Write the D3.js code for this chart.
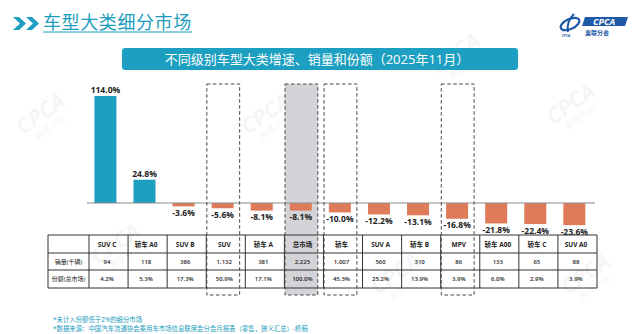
<!DOCTYPE html>
<html><head><meta charset="utf-8">
<script src="https://cdn.jsdelivr.net/npm/d3@7"></script>
<style>
html,body{margin:0;padding:0;background:#fff;}
svg{display:block;}
text{font-family:"Open Sans","Noto Sans CJK SC",sans-serif;}
</style></head>
<body>
<svg id="c" width="640" height="334"></svg>
<script>
const categories = ["SUV C","轿车 A0","SUV B","SUV","轿车 A","总市场","轿车","SUV A","轿车 B","MPV","轿车 A00","轿车 C","SUV A0"];
const growth = [114.0, 24.8, -3.6, -5.6, -8.1, -8.1, -10.0, -12.2, -13.1, -16.8, -21.8, -22.4, -23.6];
const sales = ["94","118","386","1,132","381","2,225","1,007","560","310","86","133","65","88"];
const shares = ["4.2%","5.3%","17.3%","50.9%","17.1%","100.0%","45.3%","25.2%","13.9%","3.9%","6.0%","2.9%","3.9%"];
const rowLabels = ["销量(千辆)","份额(总市场)"];
const dashedCats = ["SUV","总市场","轿车","MPV"];
const grayCat = "总市场";
const title = "车型大类细分市场";
const subtitle = "不同级别车型大类增速、销量和份额（2025年11月）";
const notes = ["*未计入份额低于2%的细分市场","*数据来源：中国汽车流通协会乘用车市场信息联席会分会月报表（零售，狭义汇总）-終稿"];

const TEAL = "#1d9fc1", ORANGE = "#e07b59", TITLE = "#1a9cbc";
const svg = d3.select("#c");

// watermarks
const wm = [[45,120],[120,250],[270,120],[400,280],[575,110],[590,280],[460,60]];
wm.forEach(([x,y])=>{
  const g = svg.append("g").attr("transform",`translate(${x},${y}) rotate(-35)`).attr("opacity",0.05);
  g.append("text").attr("font-size",22).attr("font-weight",700).attr("font-style","italic").attr("fill","#555").attr("text-anchor","middle").text("CPCA");
  g.append("text").attr("y",12).attr("font-size",9).attr("fill","#555").attr("text-anchor","middle").text("乘联分会");
});

// title chevrons
[[13],[26]].forEach(([x])=>{
  svg.append("path").attr("d",`M${x},17 L${x+6},17 L${x+13},23.5 L${x+6},30 L${x},30 L${x+7},23.5 Z`).attr("fill",TEAL);
});
svg.append("text").attr("x",43).attr("y",29).attr("font-size",18).attr("fill",TITLE)
  .attr("font-family","Noto Sans CJK SC").attr("letter-spacing",0.6).text(title);
svg.append("line").attr("x1",43).attr("x2",192).attr("y1",32).attr("y2",32).attr("stroke",TITLE).attr("stroke-width",1);

// logo
const lg = svg.append("g");
lg.append("path").attr("d","M585,17 L628,17 L625,26 L582,26 Z").attr("fill","#1f5aa8");
lg.append("text").attr("x",604).attr("y",25).attr("text-anchor","middle").attr("font-size",9).attr("font-weight",700).attr("font-style","italic").attr("fill","#fff").text("CPCA");
lg.append("text").attr("x",597).attr("y",35).attr("text-anchor","middle").attr("font-size",6).attr("font-weight",700).attr("fill","#1f5aa8").attr("font-family","Noto Sans CJK SC").text("乘联分会");
lg.append("ellipse").attr("cx",570).attr("cy",24).attr("rx",10).attr("ry",5).attr("transform","rotate(-25,570,24)").attr("fill","none").attr("stroke","#1f5aa8").attr("stroke-width",2.2);
lg.append("path").attr("d","M574,14 Q566,22 568,32").attr("fill","none").attr("stroke","#1f5aa8").attr("stroke-width",2);
lg.append("text").attr("x",566).attr("y",37).attr("text-anchor","middle").attr("font-size",3.5).attr("font-weight",700).attr("font-style","italic").attr("fill","#1f5aa8").text("CPCA");

// banner
svg.append("rect").attr("x",122).attr("y",48).attr("width",396).attr("height",22).attr("rx",3).attr("fill",TEAL);
svg.append("text").attr("x",317).attr("y",63.5).attr("text-anchor","middle").attr("font-size",13).attr("fill","#fff")
  .attr("font-family","Noto Sans CJK SC").text(subtitle);

// scales
const x = d3.scaleBand().domain(categories).range([89, 597]).padding(0);
const bw = x.bandwidth();
const y = d3.scaleLinear().domain([0, 114]).range([203, 96]);

const boxTop = 84, boxBot = 295;
const boxW = bw * 0.84;

// gray highlight
svg.append("rect").attr("x", x(grayCat)+0.6).attr("y", boxTop).attr("width", boxW).attr("height", boxBot-boxTop).attr("fill","#d4d4d8");

// bars
svg.selectAll("rect.bar").data(categories).join("rect").attr("class","bar")
  .attr("x", d => x(d) + bw*0.42 - 11)
  .attr("width", 22)
  .attr("y", (d,i) => growth[i] >= 0 ? y(growth[i]) : y(0))
  .attr("height", (d,i) => Math.abs(y(growth[i]) - y(0)))
  .attr("fill", (d,i) => growth[i] >= 0 ? TEAL : ORANGE);

// baseline
svg.append("line").attr("x1",87).attr("x2",595).attr("y1",y(0)).attr("y2",y(0)).attr("stroke","#8a8a8a").attr("stroke-width",1);

// labels
svg.selectAll("text.lab").data(categories).join("text").attr("class","lab")
  .attr("x", d => x(d) + bw*0.42)
  .attr("y", (d,i) => growth[i] >= 0 ? y(growth[i]) - 3 : y(growth[i]) + 9.5)
  .attr("text-anchor","middle").attr("font-size",8.5).attr("font-weight",700).attr("fill","#222")
  .text((d,i) => growth[i].toFixed(1) + "%");

// table
const tTop = 235, rowH = [18, 17, 18];
const rowsY = [tTop, tTop+rowH[0], tTop+rowH[0]+rowH[1], tTop+rowH[0]+rowH[1]+rowH[2]];
const tLeft = 48, tRight = 597;
const tg = svg.append("g");
rowsY.forEach(ry => tg.append("line").attr("x1",tLeft).attr("x2",tRight).attr("y1",ry).attr("y2",ry).attr("stroke","#333").attr("stroke-width",1));
const colX = [tLeft, ...categories.map(c => x(c)), tRight];
colX.forEach(cx => tg.append("line").attr("x1",cx).attr("x2",cx).attr("y1",rowsY[0]).attr("y2",rowsY[3]).attr("stroke","#333").attr("stroke-width",1));

const cellCenter = c => x(c) + bw/2 - 1.5;
tg.selectAll("text.hdr").data(categories).join("text").attr("class","hdr")
  .attr("x", cellCenter).attr("y", (rowsY[0]+rowsY[1])/2 + 2.5)
  .attr("text-anchor","middle").attr("font-size",6.5).attr("font-weight",700).attr("fill","#222").text(d => d);
tg.selectAll("text.s").data(categories).join("text").attr("class","s")
  .attr("x", cellCenter).attr("y", (rowsY[1]+rowsY[2])/2 + 2.3)
  .attr("text-anchor","middle").attr("font-size",6).attr("font-weight",600).attr("fill","#222").text((d,i) => sales[i]);
tg.selectAll("text.sh").data(categories).join("text").attr("class","sh")
  .attr("x", cellCenter).attr("y", (rowsY[2]+rowsY[3])/2 + 2.3)
  .attr("text-anchor","middle").attr("font-size",6).attr("font-weight",600).attr("fill","#222").text((d,i) => shares[i]);
rowLabels.forEach((t,i) => {
  tg.append("text").attr("x",(tLeft+x(categories[0]))/2).attr("y",(rowsY[i+1]+rowsY[i+2])/2 + 2.3)
    .attr("text-anchor","middle").attr("font-size",6).attr("fill","#222").attr("font-family","Noto Sans CJK SC").text(t);
});

// dashed boxes
dashedCats.forEach(c => {
  svg.append("rect").attr("x", x(c)+0.6).attr("y", boxTop).attr("width", boxW).attr("height", boxBot-boxTop)
    .attr("fill","none").attr("stroke","#444").attr("stroke-width",1).attr("stroke-dasharray","3.5,2.5");
});

// notes
notes.forEach((t,i) => {
  svg.append("text").attr("x",53).attr("y",322 + i*8.5).attr("font-size",6.4).attr("fill",TITLE)
    .attr("font-family","Noto Sans CJK SC").text(t);
});
</script>
</body></html>
